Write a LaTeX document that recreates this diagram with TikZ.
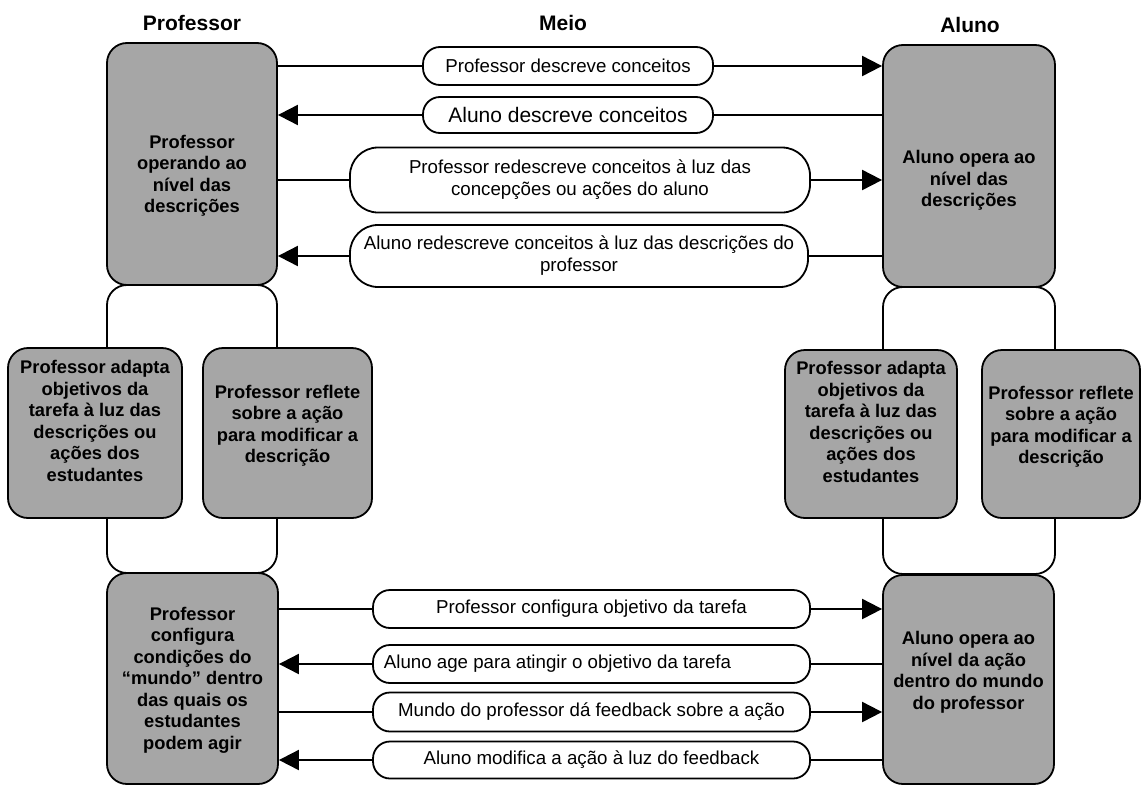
\documentclass[tikz,border=0pt]{standalone}
\usepackage{fontspec}
\setmainfont{Liberation Sans}
\usetikzlibrary{arrows.meta}
\definecolor{boxgray}{RGB}{166,166,166}
\newcommand{\gfont}{\fontsize{18.3}{21.5}\selectfont\bfseries}
\newcommand{\pfont}{\fontsize{18.7}{22}\selectfont}
\newcommand{\hfont}{\fontsize{21}{24}\selectfont\bfseries}
% #1 > 0 moves the text down by #1, #1 < 0 moves it up
\newcommand{\gtext}[2]{\raisebox{0pt}[\dimexpr\height+#1+#1\relax][\depth]{\begin{tabular}{@{}c@{}}#2\end{tabular}}}
\tikzset{
  gbox/.style={draw=black, line width=1.8pt, fill=boxgray, rounded corners=20pt, inner sep=0pt, align=center, font=\gfont},
  wbox/.style={draw=black, line width=1.8pt, fill=white, rounded corners=20pt, inner sep=0pt},
  pill/.style={draw=black, line width=1.8pt, fill=white, rounded corners=17pt, inner sep=0pt, align=center, font=\pfont},
  conn/.style={draw=black, line width=2pt},
  arr/.style={conn, -{Triangle[length=20pt,width=20pt]}},
  header/.style={font=\hfont, inner sep=0pt}
}
\begin{document}
\begin{tikzpicture}[x=1pt,y=-1pt]
\useasboundingbox (0,0) rectangle (1142,787);
% headers
\node[header] (hprof) at (192,23) {Professor};
\node[header] (hmeio) at (563,23) {Meio};
\node[header] (haluno) at (970,25) {Aluno};
% white connecting boxes
\node[wbox, minimum width=170pt, minimum height=288pt] (pw) at (192,429) {};
\node[wbox, minimum width=172pt, minimum height=287pt] (aw) at (969,430.5) {};
% gray boxes
\node[gbox, minimum width=170pt, minimum height=242pt] (ptop) at (192,164)
  {\gtext{12pt}{Professor\\operando ao\\nível das\\descrições}};
\node[gbox, minimum width=172pt, minimum height=242pt] (atop) at (969,166)
  {\gtext{15pt}{Aluno opera ao\\nível das\\descrições}};
\node[gbox, minimum width=171pt, minimum height=211pt] (pbot) at (192.5,678.5)
  {\gtext{2pt}{Professor\\configura\\condições do\\“mundo” dentro\\das quais os\\estudantes\\podem agir}};
\node[gbox, minimum width=171pt, minimum height=209pt] (abot) at (968.5,679.5)
  {\gtext{-7pt}{Aluno opera ao\\nível da ação\\dentro do mundo\\do professor}};
\node[gbox, minimum width=174pt, minimum height=170pt] (pl1) at (95,433)
  {\gtext{-10pt}{Professor adapta\\objetivos da\\tarefa à luz das\\descrições ou\\ações dos\\estudantes}};
\node[gbox, minimum width=169pt, minimum height=170pt] (pl2) at (287.5,433)
  {\gtext{-7pt}{Professor reflete\\sobre a ação\\para modificar a\\descrição}};
\node[gbox, minimum width=172pt, minimum height=168pt] (ar1) at (871,434)
  {\gtext{-10pt}{Professor adapta\\objetivos da\\tarefa à luz das\\descrições ou\\ações dos\\estudantes}};
\node[gbox, minimum width=158pt, minimum height=168pt] (ar2) at (1061,434)
  {\gtext{-7pt}{Professor reflete\\sobre a ação\\para modificar a\\descrição}};
% pills top
\node[pill, minimum width=290pt, minimum height=38pt] (p1) at (568,66) {Professor descreve conceitos};
\node[pill, minimum width=290pt, minimum height=36pt, font=\fontsize{21}{24}\selectfont] (p2) at (568,115) {Aluno descreve conceitos};
\node[pill, rounded corners=28pt, minimum width=460pt, minimum height=65pt] (p3) at (580,180)
  {Professor redescreve conceitos à luz das\\concepções ou ações do aluno};
\node[pill, rounded corners=28pt, minimum width=458pt, minimum height=62pt] (p4) at (579,256)
  {Aluno redescreve conceitos à luz das descrições do\\professor};
% pills bottom
\node[pill, minimum width=437pt, minimum height=38pt] (b1) at (591.5,609) {Professor configura objetivo da tarefa};
\node[pill, minimum width=437pt, minimum height=38pt] (b2) at (591.5,664) {\hspace*{-68pt}Aluno age para atingir o objetivo da tarefa};
\node[pill, minimum width=437pt, minimum height=39pt] (b3) at (591.5,712) {Mundo do professor dá feedback sobre a ação};
\node[pill, minimum width=437pt, minimum height=37pt] (b4) at (591.5,760) {Aluno modifica a ação à luz do feedback};
% connectors top
\draw[conn] (ptop.east |- p1.west) -- (p1.west);
\draw[arr] (p1.east) -- (p1.east -| atop.west);
\draw[conn] (atop.west |- p2.east) -- (p2.east);
\draw[arr] (p2.west) -- (p2.west -| ptop.east);
\draw[conn] (ptop.east |- p3.west) -- (p3.west);
\draw[arr] (p3.east) -- (p3.east -| atop.west);
\draw[conn] (atop.west |- p4.east) -- (p4.east);
\draw[arr] (p4.west) -- (p4.west -| ptop.east);
% connectors bottom
\draw[conn] (pbot.east |- b1.west) -- (b1.west);
\draw[arr] (b1.east) -- (b1.east -| abot.west);
\draw[conn] (abot.west |- b2.east) -- (b2.east);
\draw[arr] (b2.west) -- (b2.west -| pbot.east);
\draw[conn] (pbot.east |- b3.west) -- (b3.west);
\draw[arr] (b3.east) -- (b3.east -| abot.west);
\draw[conn] (abot.west |- b4.east) -- (b4.east);
\draw[arr] (b4.west) -- (b4.west -| pbot.east);
\end{tikzpicture}
\end{document}
